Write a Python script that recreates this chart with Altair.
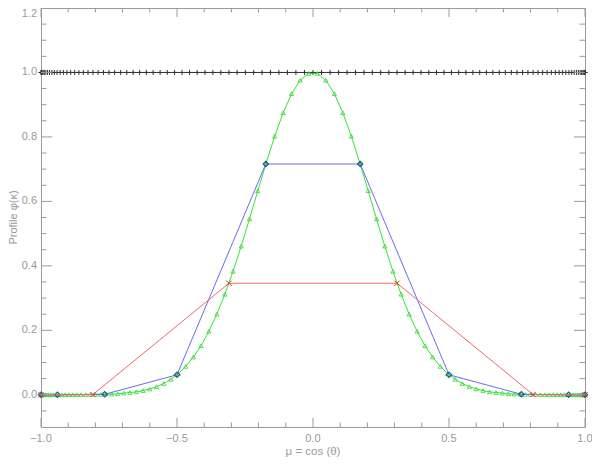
import altair as alt
import pandas as pd

# ---------------- data ----------------
black_x = [-1.0, -0.9995, -0.998, -0.9956, -0.9921, -0.9877, -0.9823, -0.9759, -0.9686, -0.9603,
           -0.9511, -0.9409, -0.9298, -0.9178, -0.9048, -0.891, -0.8763, -0.8607, -0.8443, -0.8271,
           -0.809, -0.7902, -0.7705, -0.7501, -0.729, -0.7071, -0.6846, -0.6613, -0.6374, -0.6129,
           -0.5878, -0.5621, -0.5358, -0.509, -0.4818, -0.454, -0.4258, -0.3971, -0.3681, -0.3387,
           -0.309, -0.279, -0.2487, -0.2181, -0.1874, -0.1564, -0.1253, -0.0941, -0.0628, -0.0314,
           0.0,
           0.0314, 0.0628, 0.0941, 0.1253, 0.1564, 0.1874, 0.2181, 0.2487, 0.279, 0.309,
           0.3387, 0.3681, 0.3971, 0.4258, 0.454, 0.4818, 0.509, 0.5358, 0.5621, 0.5878,
           0.6129, 0.6374, 0.6613, 0.6846, 0.7071, 0.729, 0.7501, 0.7705, 0.7902, 0.809,
           0.8271, 0.8443, 0.8607, 0.8763, 0.891, 0.9048, 0.9178, 0.9298, 0.9409, 0.9511,
           0.9603, 0.9686, 0.9759, 0.9823, 0.9877, 0.9921, 0.9956, 0.998, 0.9995, 1.0]
black_y = [1.0] * len(black_x)

green_x = [-0.9999, -0.9989, -0.9969, -0.994, -0.99, -0.9851, -0.9792, -0.9724, -0.9646, -0.9558,
           -0.9461, -0.9354, -0.9239, -0.9114, -0.898, -0.8838, -0.8686, -0.8526, -0.8358, -0.8182,
           -0.7997, -0.7804, -0.7604, -0.7396, -0.7181, -0.6959, -0.673, -0.6495, -0.6252, -0.6004,
           -0.575, -0.549, -0.5225, -0.4955, -0.4679, -0.4399, -0.4115, -0.3827, -0.3535, -0.3239,
           -0.294, -0.2639, -0.2334, -0.2028, -0.1719, -0.1409, -0.1097, -0.0785, -0.0471, -0.0157,
           0.0157, 0.0471, 0.0785, 0.1097, 0.1409, 0.1719, 0.2028, 0.2334, 0.2639, 0.294,
           0.3239, 0.3535, 0.3827, 0.4115, 0.4399, 0.4679, 0.4955, 0.5225, 0.549, 0.575,
           0.6004, 0.6252, 0.6495, 0.673, 0.6959, 0.7181, 0.7396, 0.7604, 0.7804, 0.7997,
           0.8182, 0.8358, 0.8526, 0.8686, 0.8838, 0.898, 0.9114, 0.9239, 0.9354, 0.9461,
           0.9558, 0.9646, 0.9724, 0.9792, 0.9851, 0.99, 0.994, 0.9969, 0.9989, 0.9999]
green_y = [0.0, 0.0, 0.0, 0.0, 0.0, 0.0, 0.0, 0.0, 0.0, 0.0,
           0.0, 0.0, 0.0, 0.0, 0.0, 0.0, 0.0, 0.0, 0.0, 0.001,
           0.001, 0.001, 0.002, 0.002, 0.003, 0.005, 0.007, 0.009, 0.013, 0.018,
           0.025, 0.035, 0.048, 0.065, 0.088, 0.117, 0.152, 0.197, 0.25, 0.312,
           0.383, 0.461, 0.546, 0.633, 0.72, 0.802, 0.875, 0.934, 0.976, 0.997,
           0.997, 0.976, 0.934, 0.875, 0.802, 0.72, 0.633, 0.546, 0.461, 0.383,
           0.312, 0.25, 0.197, 0.152, 0.117, 0.088, 0.065, 0.048, 0.035, 0.025,
           0.018, 0.013, 0.009, 0.007, 0.005, 0.003, 0.002, 0.002, 0.001, 0.001,
           0.001, 0.0, 0.0, 0.0, 0.0, 0.0, 0.0, 0.0, 0.0, 0.0,
           0.0, 0.0, 0.0, 0.0, 0.0, 0.0, 0.0, 0.0, 0.0, 0.0]

blue_x = [-1.0, -0.9397, -0.766, -0.5, -0.1736, 0.1736, 0.5, 0.766, 0.9397, 1.0]
blue_y = [0.0, 0.0, 0.0015, 0.062, 0.716, 0.716, 0.062, 0.0015, 0.0, 0.0]

red_x = [-1.0, -0.809, -0.309, 0.309, 0.809, 1.0]
red_y = [0.0, 0.0007, 0.346, 0.346, 0.0007, 0.0]

x_major = [-1.0, -0.5, 0.0, 0.5, 1.0]
x_minor = [-0.9, -0.8, -0.7, -0.6, -0.4, -0.3, -0.2, -0.1, 0.1, 0.2, 0.3, 0.4, 0.6, 0.7, 0.8, 0.9]
y_major = [0.0, 0.2, 0.4, 0.6, 0.8, 1.0, 1.2]
y_minor = [-0.05, 0.05, 0.1, 0.15, 0.25, 0.3, 0.35, 0.45, 0.5, 0.55, 0.65, 0.7, 0.75,
           0.85, 0.9, 0.95, 1.05, 1.1, 1.15]

x_title = "μ = cos (θ)"
y_title = "Profile φ(κ)"

# ---------------- style ----------------
W, H = 544, 419
AX = "#9a9a9a"
TXT = "#999999"
FONT = "Liberation Sans"
PLUS = "M-1,0L1,0M0,-1L0,1"
CROSS = "M-1,-1L1,1M-1,1L1,-1"

xs = alt.Scale(domain=[-1, 1], nice=False, zero=False)
ys = alt.Scale(domain=[-0.1, 1.2], nice=False, zero=False)


def xy(first=False):
    if first:
        return dict(x=alt.X("x:Q", scale=xs, axis=None), y=alt.Y("y:Q", scale=ys, axis=None))
    return dict(x=alt.X("x:Q", axis=None), y=alt.Y("y:Q", axis=None))


black_df = pd.DataFrame({"x": black_x, "y": black_y})
green_df = pd.DataFrame({"x": green_x, "y": green_y})
blue_df = pd.DataFrame({"x": blue_x, "y": blue_y})
red_df = pd.DataFrame({"x": red_x, "y": red_y})

black_line = alt.Chart(black_df).mark_line(color="#333333", strokeWidth=1).encode(**xy(True))
black_pts = alt.Chart(black_df).mark_point(shape=PLUS, filled=False, size=25, color="#333333",
                                           strokeWidth=1, opacity=1).encode(**xy())
green_line = alt.Chart(green_df).mark_line(color="#33e633", strokeWidth=1).encode(**xy())
green_pts = alt.Chart(green_df).mark_point(shape="triangle-up", filled=False, size=18, color="#33d633",
                                           strokeWidth=0.8, opacity=1).encode(**xy())
blue_line = alt.Chart(blue_df).mark_line(color="#6a6af0", strokeWidth=1).encode(**xy())
blue_pts = alt.Chart(blue_df).mark_point(shape="diamond", filled=False, size=28, color="#215e80",
                                         strokeWidth=1.2, opacity=1).encode(**xy())
red_line = alt.Chart(red_df).mark_line(color="#f06a6a", strokeWidth=1).encode(**xy())
red_pts = alt.Chart(red_df).mark_point(shape=CROSS, filled=False, size=28, color="#e03030",
                                       strokeWidth=1, opacity=1).encode(**xy())

# inward ticks on all four sides
ymaj = pd.DataFrame({"v": y_major})
ymin = pd.DataFrame({"v": y_minor})
xmaj = pd.DataFrame({"v": x_major})
xmin = pd.DataFrame({"v": x_minor})


def yticks(df, length):
    yy = alt.Y("v:Q", axis=None)
    l = alt.Chart(df).mark_rule(color=AX, strokeWidth=1).encode(y=yy, x=alt.value(0), x2=alt.value(length))
    r = alt.Chart(df).mark_rule(color=AX, strokeWidth=1).encode(y=yy, x=alt.value(W - length), x2=alt.value(W))
    return [l, r]


def xticks(df, length):
    xx = alt.X("v:Q", axis=None)
    b = alt.Chart(df).mark_rule(color=AX, strokeWidth=1).encode(x=xx, y=alt.value(H - length), y2=alt.value(H))
    t = alt.Chart(df).mark_rule(color=AX, strokeWidth=1).encode(x=xx, y=alt.value(0), y2=alt.value(length))
    return [b, t]


# tick labels and axis titles
xlab = alt.Chart(xmaj).mark_text(baseline="top", align="center", fontSize=11, font=FONT,
                                 color=TXT).encode(
    x=alt.X("v:Q", axis=None), y=alt.value(H + 6), text=alt.Text("v:Q", format=".1f"))
ylab = alt.Chart(pd.DataFrame({"v": y_major[:-1]})).mark_text(
    baseline="middle", align="right", fontSize=11, font=FONT, color=TXT).encode(
    y=alt.Y("v:Q", axis=None), x=alt.value(-4), text=alt.Text("v:Q", format=".1f"))
ylab_top = alt.Chart(pd.DataFrame({"v": y_major[-1:]})).mark_text(
    baseline="top", align="right", fontSize=11, font=FONT, color=TXT).encode(
    y=alt.Y("v:Q", axis=None), x=alt.value(-4), text=alt.Text("v:Q", format=".1f"))
xtitle = alt.Chart(pd.DataFrame({"t": [x_title]})).mark_text(
    baseline="alphabetic", align="center", fontSize=11.5, font=FONT, color=TXT).encode(
    x=alt.value(W / 2), y=alt.value(H + 28), text="t:N")
ytitle = alt.Chart(pd.DataFrame({"t": [y_title]})).mark_text(
    baseline="middle", align="center", fontSize=11, font=FONT, color=TXT, angle=270).encode(
    x=alt.value(-27), y=alt.value(H / 2), text="t:N")

layers = [black_line, black_pts, green_line, green_pts, blue_line, blue_pts, red_line, red_pts]
layers += yticks(ymaj, 11) + yticks(ymin, 5.5) + xticks(xmaj, 9) + xticks(xmin, 4.5)
layers += [xlab, ylab, ylab_top, xtitle, ytitle]

chart = alt.layer(*layers).properties(
    width=W, height=H,
    autosize=alt.AutoSizeParams(type="none"),
    padding={"left": 33, "top": 0, "right": 7, "bottom": 32},
    background="white",
).configure_view(stroke=AX, strokeWidth=1)

chart.save("out.html", embed_options={"renderer": "svg", "actions": False})
